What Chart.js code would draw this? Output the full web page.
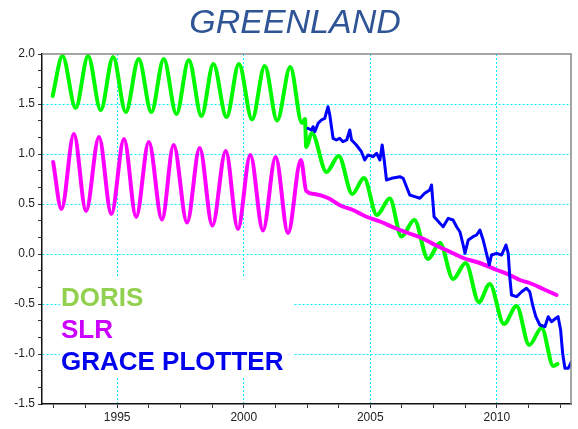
<!DOCTYPE html>
<html>
<head>
<meta charset="utf-8">
<script src="https://cdn.jsdelivr.net/npm/chart.js@4"></script>
<style>
  html, body { margin: 0; padding: 0; background: #fff; }
  #wrap { width: 578px; height: 429px; }
</style>
</head>
<body>
<div id="wrap"><canvas id="chart" width="578" height="429"></canvas></div>
<script>
// ── Data ──────────────────────────────────────────────────
const dorisYears = [1992.45, 1992.84, 1993.36, 1993.85, 1994.35, 1994.84, 1995.34, 1995.85, 1996.35, 1996.84,
  1997.34, 1997.83, 1998.33, 1998.80, 1999.32, 1999.81, 2000.33, 2000.83, 2001.32, 2001.84,
  2002.30, 2002.42, 2002.47, 2002.69, 2003.27, 2003.75, 2004.29, 2004.75, 2005.26, 2005.77,
  2006.23, 2006.74, 2007.28, 2007.75, 2008.27, 2008.77, 2009.29, 2009.72, 2010.28, 2010.78,
  2011.28, 2011.77, 2012.23, 2012.40];
const dorisValues = [1.58, 1.98, 1.46, 1.98, 1.44, 1.97, 1.42, 1.95, 1.42, 1.95,
  1.40, 1.94, 1.38, 1.90, 1.37, 1.90, 1.345, 1.88, 1.335, 1.87,
  1.31, 1.35, 1.07, 1.21, 0.82, 0.98, 0.60, 0.76, 0.39, 0.555,
  0.175, 0.34, -0.05, 0.11, -0.25, -0.09, -0.48, -0.30, -0.70, -0.52,
  -0.91, -0.74, -1.12, -1.10];

const slrYears = [1992.47, 1992.80, 1993.29, 1993.77, 1994.28, 1994.77, 1995.27, 1995.75, 1996.25, 1996.77,
  1997.23, 1997.76, 1998.26, 1998.76, 1999.29, 1999.77, 2000.26, 2000.76, 2001.26, 2001.75,
  2002.26, 2002.47, 2002.80, 2003.33, 2003.86, 2004.32, 2004.78, 2005.44, 2005.97, 2006.50,
  2007.03, 2007.56, 2008.00, 2008.67, 2009.33, 2010.00, 2010.51, 2010.91, 2011.30, 2011.83, 2012.36];
const slrValues = [0.92, 0.45, 1.20, 0.43, 1.17, 0.40, 1.15, 0.37, 1.12, 0.345,
  1.09, 0.315, 1.06, 0.285, 1.03, 0.25, 0.99, 0.235, 0.97, 0.21,
  0.94, 0.63, 0.60, 0.56, 0.48, 0.44, 0.38, 0.32, 0.26, 0.21,
  0.16, 0.09, 0.04, -0.04, -0.09, -0.16, -0.21, -0.26, -0.29, -0.35, -0.41];

const graceYears = [2002.54, 2002.68, 2002.74, 2002.81, 2002.94, 2003.07, 2003.20, 2003.33, 2003.40, 2003.53,
  2003.66, 2003.79, 2003.92, 2004.07, 2004.19, 2004.26, 2004.45, 2004.65, 2004.78, 2004.91,
  2005.11, 2005.25, 2005.38, 2005.47, 2005.55, 2005.64, 2005.84, 2006.17, 2006.30, 2006.43,
  2006.56, 2006.76, 2006.96, 2007.15, 2007.35, 2007.42, 2007.52, 2007.75, 2007.88, 2008.08,
  2008.27, 2008.41, 2008.54, 2008.67, 2008.74, 2008.87, 2009.06, 2009.20, 2009.33, 2009.46,
  2009.59, 2009.70, 2009.79, 2009.99, 2010.19, 2010.36, 2010.45, 2010.51, 2010.58, 2010.78,
  2010.98, 2011.17, 2011.30, 2011.43, 2011.54, 2011.70, 2011.90, 2012.03, 2012.16, 2012.33,
  2012.42, 2012.52, 2012.60, 2012.69, 2012.82, 2012.95];
const graceValues = [1.257, 1.24, 1.273, 1.223, 1.307, 1.34, 1.357, 1.473, 1.39, 1.157,
  1.14, 1.157, 1.123, 1.14, 1.24, 1.14, 1.09, 1.023, 0.94, 0.99,
  0.973, 1.007, 0.94, 1.09, 0.94, 0.74, 0.757, 0.773, 0.757, 0.673,
  0.59, 0.573, 0.557, 0.607, 0.64, 0.69, 0.373, 0.307, 0.273, 0.357,
  0.34, 0.273, 0.223, 0.09, 0.007, 0.14, 0.173, 0.19, 0.24, 0.14,
  0.007, -0.11, -0.01, 0.007, -0.01, 0.09, 0.007, -0.227, -0.41, -0.427,
  -0.377, -0.343, -0.377, -0.527, -0.627, -0.71, -0.727, -0.627, -0.677, -0.643,
  -0.627, -0.76, -0.993, -1.143, -1.143, -1.077];

const xMajorTicks = [1995, 2000, 2005, 2010];
const xMinorTicks = [1992.5, 1993.75, 1996.25, 1997.5, 1998.75, 2001.25, 2002.5, 2003.75,
  2006.25, 2007.5, 2008.75, 2011.25, 2012.5];
const yMajorTicks = [-1.5, -1.0, -0.5, 0.0, 0.5, 1.0, 1.5, 2.0];

const legendItems = [
  { text: 'DORIS',         color: '#92D050' },
  { text: 'SLR',           color: '#CC00FF' },
  { text: 'GRACE PLOTTER', color: '#0000EE' },
];

// ── Helpers ───────────────────────────────────────────────
const FONT = '"Liberation Sans", Arial, sans-serif';
const GRID = '#00F0FF';

function toPoints(xs, ys) {
  return xs.map(function(x, i) { return { x: x, y: ys[i] }; });
}

function isMajor(list, v) {
  return list.some(function(m) { return Math.abs(m - v) < 1e-6; });
}

// y minor ticks: two between each pair of majors
const yTicks = [];
yMajorTicks.forEach(function(m, i) {
  yTicks.push(m);
  if (i < yMajorTicks.length - 1) {
    yTicks.push(m + 0.5 / 3, m + 1 / 3);
  }
});
const xTicks = xMajorTicks.concat(xMinorTicks).sort(function(a, b) { return a - b; });

const framePlugin = {
  id: 'frame',
  beforeDatasetsDraw: function(chart) {
    const ctx = chart.ctx;
    ctx.save();
    // legend box hides the grid behind it
    ctx.fillStyle = '#ffffff';
    ctx.fillRect(60, 278, 233, 99);
    ctx.font = 'bold 26px ' + FONT;
    ctx.textAlign = 'left';
    ctx.textBaseline = 'alphabetic';
    legendItems.forEach(function(item, i) {
      ctx.fillStyle = item.color;
      ctx.fillText(item.text, 61, 306 + i * 32);
    });
    ctx.restore();
  },
  afterDraw: function(chart) {
    const ctx = chart.ctx;
    const a = chart.chartArea;
    ctx.save();
    ctx.strokeStyle = '#888888';
    ctx.lineWidth = 1.5;
    ctx.beginPath();
    ctx.moveTo(a.left, a.top);
    ctx.lineTo(a.right, a.top);
    ctx.lineTo(a.right, a.bottom);
    ctx.stroke();

    ctx.fillStyle = '#2F5597';
    ctx.font = 'italic 34px ' + FONT;
    ctx.textAlign = 'center';
    ctx.textBaseline = 'alphabetic';
    ctx.fillText('GREENLAND', 295, 33);
    ctx.restore();
  }
};

new Chart(document.getElementById('chart'), {
  type: 'line',
  data: {
    datasets: [
      {
        label: 'GRACE PLOTTER',
        data: toPoints(graceYears, graceValues),
        borderColor: '#0000FF',
        borderWidth: 3,
        tension: 0,
        order: 0,
      },
      {
        label: 'SLR',
        data: toPoints(slrYears, slrValues),
        borderColor: '#FF00FF',
        borderWidth: 4,
        cubicInterpolationMode: 'monotone',
        order: 1,
      },
      {
        label: 'DORIS',
        data: toPoints(dorisYears, dorisValues),
        borderColor: '#00F800',
        borderWidth: 4,
        cubicInterpolationMode: 'monotone',
        order: 2,
      },
    ]
  },
  options: {
    responsive: false,
    animation: false,
    events: [],
    layout: { padding: { top: 54, right: 7, left: 0, bottom: 0 } },
    elements: { point: { radius: 0 }, line: { borderCapStyle: 'round', borderJoinStyle: 'round' } },
    plugins: { legend: { display: false }, tooltip: { enabled: false }, title: { display: false } },
    scales: {
      x: {
        type: 'linear',
        min: 1992.03,
        max: 2012.93,
        afterFit: function(scale) { scale.height = 25; },
        afterBuildTicks: function(scale) {
          scale.ticks = xTicks.map(function(v) { return { value: v }; });
        },
        ticks: {
          autoSkip: false,
          maxRotation: 0,
          padding: 2,
          color: '#222',
          font: { family: FONT, size: 12 },
          callback: function(v) { return isMajor(xMajorTicks, v) ? String(v) : ''; }
        },
        grid: {
          color: function(c) { return c.tick && isMajor(xMajorTicks, c.tick.value) ? GRID : 'rgba(0,0,0,0)'; },
          lineWidth: 1,
          tickColor: '#333',
          tickLength: 4,
          tickWidth: 1,
        },
        border: { color: '#111', width: 1.5, dash: [2, 2] },
      },
      y: {
        type: 'linear',
        min: -1.5,
        max: 2.0,
        afterFit: function(scale) { scale.width = 42; },
        afterBuildTicks: function(scale) {
          scale.ticks = yTicks.map(function(v) { return { value: v }; });
        },
        ticks: {
          autoSkip: false,
          padding: 3,
          color: '#222',
          font: { family: FONT, size: 12 },
          callback: function(v) { return isMajor(yMajorTicks, v) ? v.toFixed(1) : ''; }
        },
        grid: {
          color: function(c) {
            if (!c.tick) return 'rgba(0,0,0,0)';
            const v = c.tick.value;
            return isMajor(yMajorTicks, v) && v > -1.4 && v < 1.9 ? GRID : 'rgba(0,0,0,0)';
          },
          lineWidth: 1,
          tickColor: '#333',
          tickLength: 4,
          tickWidth: 1,
        },
        border: { color: '#111', width: 1.5, dash: [2, 2] },
      }
    }
  },
  plugins: [framePlugin]
});
</script>
</body>
</html>
